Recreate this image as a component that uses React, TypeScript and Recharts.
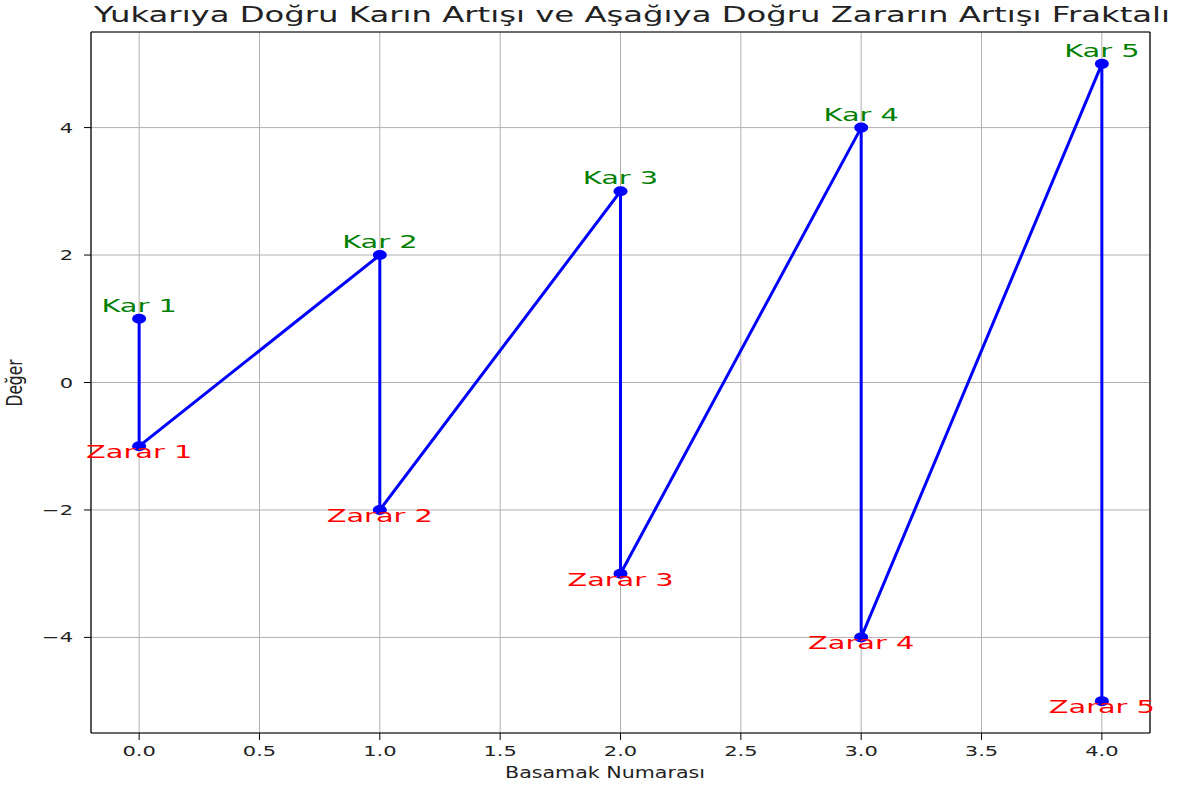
import {
  LineChart,
  Line,
  XAxis,
  YAxis,
  CartesianGrid,
  ReferenceLine,
  LabelList,
} from "recharts";

const steps = [0, 0, 1, 1, 2, 2, 3, 3, 4, 4];
const values = [1, -1, 2, -2, 3, -3, 4, -4, 5, -5];
const pointLabels = [
  "Kar 1", "Zarar 1", "Kar 2", "Zarar 2", "Kar 3",
  "Zarar 3", "Kar 4", "Zarar 4", "Kar 5", "Zarar 5",
];
const xTicks = [0, 0.5, 1, 1.5, 2, 2.5, 3, 3.5, 4];
const yTicks = [-4, -2, 0, 2, 4];

const data = steps.map((s, i) => ({ x: s, y: values[i], label: pointLabels[i] }));

const FONT = "DejaVu Sans, sans-serif";
const SX = 1.5;

const fmtY = (v: number) => (v < 0 ? "\u2212" + Math.abs(v) : String(v));

const XTick = (props: any) => {
  const { x, y, payload } = props;
  return (
    <g>
      <line x1={x} x2={x} y1={y - 8} y2={y - 1} stroke="#000" />
      <text
        transform={`translate(${x},${y + 15}) scale(${SX},1)`}
        textAnchor="middle"
        fontFamily={FONT}
        fontSize={14}
        fill="#222"
      >
        {payload.value.toFixed(1)}
      </text>
    </g>
  );
};

const YTick = (props: any) => {
  const { x, y, payload } = props;
  return (
    <g>
      <line x1={x + 8} x2={x + 1} y1={y} y2={y} stroke="#000" />
      <text
        transform={`translate(${x - 10},${y + 5}) scale(${SX},1)`}
        textAnchor="end"
        fontFamily={FONT}
        fontSize={14}
        fill="#222"
      >
        {fmtY(payload.value)}
      </text>
    </g>
  );
};

const Dot = (props: any) => {
  const { cx, cy } = props;
  if (cx == null || cy == null) return null;
  return <ellipse cx={cx} cy={cy} rx={7} ry={5} fill="#0000ff" />;
};

const PointLabel = (props: any) => {
  const { x, y, value } = props;
  const kar = String(value).startsWith("Kar");
  return (
    <text
      transform={`translate(${x},${kar ? y - 7 : y + 12}) scale(1.6,1)`}
      textAnchor="middle"
      fontFamily={FONT}
      fontSize={18}
      fill={kar ? "#008000" : "#ff0000"}
    >
      {value}
    </text>
  );
};

export default function App() {
  return (
    <div style={{ position: "absolute", left: 0, top: 0, width: 1178, height: 788, background: "#fff" }}>
      <svg width={1178} height={788} style={{ position: "absolute", left: 0, top: 0 }}>
        <text
          x={94}
          y={22}
          fontFamily={FONT}
          fontSize={22}
          fill="#222"
          textLength={1076}
          lengthAdjust="spacingAndGlyphs"
        >
          Yukarıya Doğru Karın Artışı ve Aşağıya Doğru Zararın Artışı Fraktalı
        </text>
        <text
          x={605}
          y={778}
          textAnchor="middle"
          fontFamily={FONT}
          fontSize={16}
          fill="#222"
          textLength={200}
          lengthAdjust="spacingAndGlyphs"
        >
          Basamak Numarası
        </text>
        <text
          transform={`translate(22,383) scale(${SX},1) rotate(-90)`}
          textAnchor="middle"
          fontFamily={FONT}
          fontSize={14}
          fill="#222"
          textLength={47}
          lengthAdjust="spacingAndGlyphs"
        >
          Değer
        </text>
      </svg>
      <div style={{ position: "absolute", left: 0, top: 0 }}>
        <LineChart
          width={1178}
          height={788}
          data={data}
          margin={{ top: 32, right: 28, left: 0, bottom: 0 }}
        >
          <CartesianGrid stroke="#b0b0b0" strokeWidth={1} />
          <XAxis
            type="number"
            dataKey="x"
            domain={[-0.2, 4.2]}
            ticks={xTicks}
            height={55}
            tick={<XTick />}
            tickLine={false}
            axisLine={{ stroke: "#000", strokeWidth: 1.2 }}
            allowDataOverflow
          />
          <YAxis
            type="number"
            dataKey="y"
            domain={[-5.5, 5.5]}
            ticks={yTicks}
            width={91}
            tick={<YTick />}
            tickLine={false}
            axisLine={{ stroke: "#000", strokeWidth: 1.2 }}
            allowDataOverflow
          />
          <ReferenceLine y={5.5} stroke="#000" strokeWidth={1.2} />
          <ReferenceLine x={4.2} stroke="#000" strokeWidth={1.2} />
          <Line
            type="linear"
            dataKey="y"
            stroke="#0000ff"
            strokeWidth={3}
            dot={<Dot />}
            activeDot={false}
            isAnimationActive={false}
          >
            <LabelList dataKey="label" content={<PointLabel />} />
          </Line>
        </LineChart>
      </div>
    </div>
  );
}
